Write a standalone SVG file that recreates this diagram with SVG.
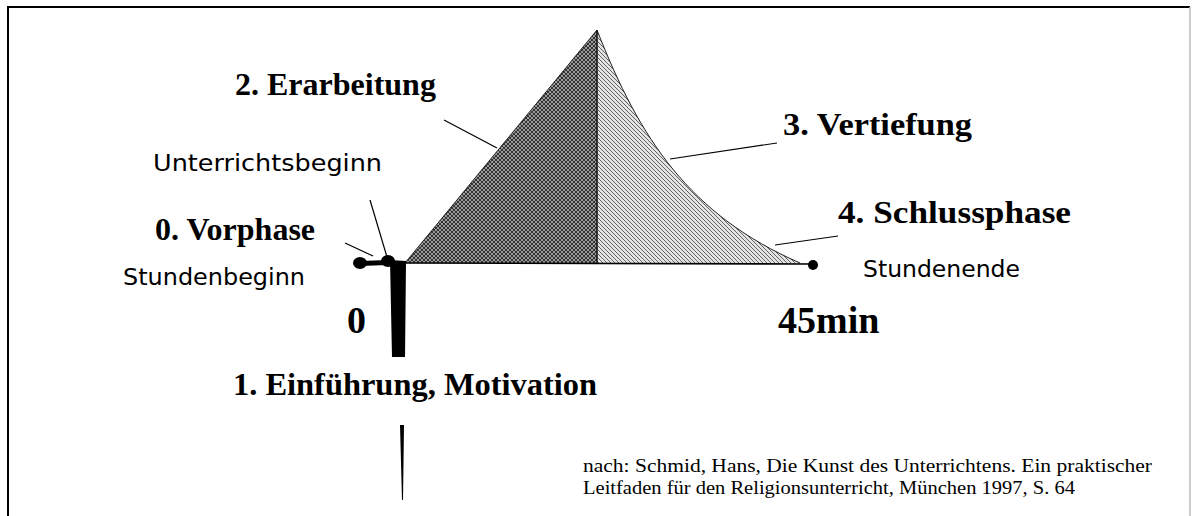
<svg xmlns="http://www.w3.org/2000/svg" width="1192" height="516" viewBox="0 0 1192 516">
<style>
.lbl{font-family:"Liberation Serif","Times New Roman",serif;font-weight:bold;font-size:32px;fill:#000}
.num{font-family:"Liberation Serif","Times New Roman",serif;font-weight:bold;font-size:38px;fill:#000}
.hand{font-family:"DejaVu Sans","Noto Sans",sans-serif;font-size:23px;fill:#000}
.cite{font-family:"Liberation Serif","Times New Roman",serif;font-size:19px;fill:#000}
.lead{stroke:#000;stroke-width:1.2;fill:none}
</style>
<defs>
<pattern id="cross" width="4" height="4" patternUnits="userSpaceOnUse">
<rect width="4" height="4" fill="#9a9a9a"/>
<path d="M0,0 L4,4 M4,0 L0,4" stroke="#333" stroke-width="1"/>
</pattern>
<pattern id="hatch" width="4" height="4" patternUnits="userSpaceOnUse">
<rect width="4" height="4" fill="#e4e4e4"/>
<path d="M-1,-1 L5,5 M-1,3 L1,5 M3,-1 L5,1" stroke="#555" stroke-width="0.9"/>
</pattern>
</defs>
<rect width="1192" height="516" fill="#fff"/>
<g id="frame">
<line x1="8" y1="7" x2="1190" y2="7" stroke="#000" stroke-width="2"/>
<line x1="8" y1="6" x2="8" y2="516" stroke="#000" stroke-width="2"/>
<line x1="1190" y1="7" x2="1190" y2="516" stroke="#bbb" stroke-width="1.5"/>
</g>
<g id="phase2">
<path d="M405,263 L597,30 L597,263 Z" fill="url(#cross)"/>
<line x1="597" y1="30" x2="405" y2="263" stroke="#222" stroke-width="1"/>
</g>
<g id="phase3">
<path d="M597,30 C640,140 690,215 800,263 L597,263 Z" fill="url(#hatch)"/>
<path d="M597,30 C640,140 690,215 800,263" stroke="#222" stroke-width="1" fill="none"/>
<line x1="597" y1="30" x2="597" y2="263" stroke="#111" stroke-width="1.5"/>
</g>
<g id="axis">
<line x1="400" y1="263" x2="813" y2="264" stroke="#000" stroke-width="1.6"/>
<circle cx="813" cy="265" r="5" fill="#000"/>
<ellipse cx="360" cy="263" rx="7" ry="6" fill="#000"/>
<path d="M360,261 L388,260 L388,265 L360,266 Z" fill="#000"/>
<ellipse cx="388" cy="261" rx="7" ry="6" fill="#000"/>
<path d="M390,260 L406,261 L405,357 L392,357 Z" fill="#000"/>
<path d="M400,425 L404,425 L403,500 L402,500 Z" fill="#000"/>
</g>
<g id="connectors">
<line class="lead" x1="444" y1="120" x2="497" y2="148"/>
<line class="lead" x1="670" y1="159" x2="777" y2="143"/>
<line class="lead" x1="775" y1="245" x2="838" y2="236"/>
<line class="lead" x1="345" y1="243" x2="373" y2="256"/>
<line class="lead" x1="370" y1="200" x2="387" y2="257"/>
</g>
<g id="label-erarbeitung"><text class="lbl" x="235" y="95">2. Erarbeitung</text></g>
<g id="label-vertiefung"><text class="lbl" x="783" y="135" textLength="189" lengthAdjust="spacingAndGlyphs">3. Vertiefung</text></g>
<g id="label-schlussphase"><text class="lbl" x="838" y="223" textLength="233" lengthAdjust="spacingAndGlyphs">4. Schlussphase</text></g>
<g id="label-vorphase"><text class="lbl" x="155" y="240">0. Vorphase</text></g>
<g id="label-einfuehrung"><text class="lbl" x="233" y="395" textLength="364" lengthAdjust="spacingAndGlyphs">1. Einführung, Motivation</text></g>
<g id="label-zero"><text class="num" x="347" y="333">0</text></g>
<g id="label-45"><text class="num" x="778" y="333">45min</text></g>
<g id="label-unterrichtsbeginn"><text class="hand" x="153" y="171" textLength="229" lengthAdjust="spacingAndGlyphs">Unterrichtsbeginn</text></g>
<g id="label-stundenbeginn"><text class="hand" x="123" y="285" textLength="182" lengthAdjust="spacingAndGlyphs">Stundenbeginn</text></g>
<g id="label-stundenende"><text class="hand" x="863" y="277" textLength="157" lengthAdjust="spacingAndGlyphs">Stundenende</text></g>
<g id="citation">
<text class="cite" x="583" y="472" textLength="569" lengthAdjust="spacingAndGlyphs">nach: Schmid, Hans, Die Kunst des Unterrichtens. Ein praktischer</text>
<text class="cite" x="583" y="494" textLength="492" lengthAdjust="spacingAndGlyphs">Leitfaden für den Religionsunterricht, München 1997, S. 64</text>
</g>
</svg>
